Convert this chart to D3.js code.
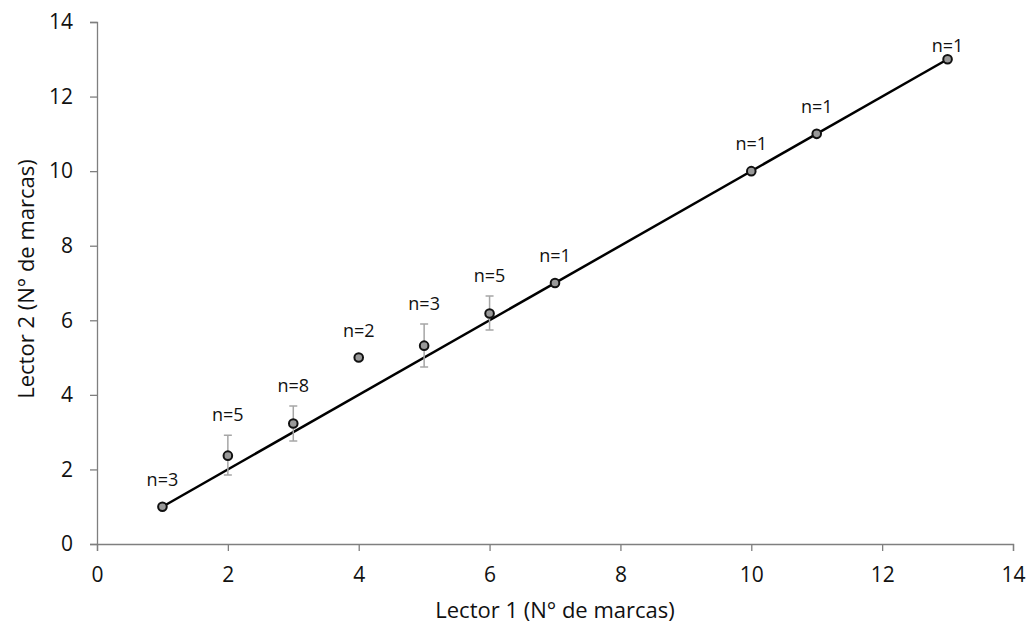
<!DOCTYPE html>
<html>
<head>
<meta charset="utf-8">
<script src="https://cdn.jsdelivr.net/npm/d3@7"></script>
<style>
  body { margin: 0; background: #fff; }
  text { font-family: "Open Sans", sans-serif; fill: #111; }
</style>
</head>
<body>
<div id="chart"></div>
<script>
const lector1 = [1, 2, 3, 4, 5, 6, 7, 10, 11, 13];
const lector2 = [1, 2.37, 3.23, 5, 5.32, 6.18, 7, 10, 11, 13];
const errLow  = [null, 1.85, 2.76, null, 4.75, 5.74, null, null, null, null];
const errHigh = [null, 2.92, 3.70, null, 5.90, 6.65, null, null, null, null];
const nLabels = ["n=3", "n=5", "n=8", "n=2", "n=3", "n=5", "n=1", "n=1", "n=1", "n=1"];
const fitLine = [[1, 1], [13, 13]];
const ticks = [0, 2, 4, 6, 8, 10, 12, 14];

const width = 1030, height = 623;
const margin = { top: 22, right: 17, bottom: 79, left: 97 };
const innerWidth = width - margin.left - margin.right;
const innerHeight = height - margin.top - margin.bottom;

const data = lector1.map((x, i) => ({
  x, y: lector2[i], lo: errLow[i], hi: errHigh[i], label: nLabels[i]
}));

const svg = d3.select("#chart").append("svg")
  .attr("width", width)
  .attr("height", height);

const inner = svg.append("g")
  .attr("transform", `translate(${margin.left},${margin.top})`);

const xScale = d3.scaleLinear().domain([0, 14]).range([0, innerWidth]);
const yScale = d3.scaleLinear().domain([0, 14]).range([innerHeight, 0]);

// Axes
const yAxis = inner.append("g")
  .call(d3.axisLeft(yScale).tickValues(ticks).tickSize(7).tickPadding(17).tickFormat(d3.format("d")));
const xAxis = inner.append("g")
  .attr("transform", `translate(0,${innerHeight})`)
  .call(d3.axisBottom(xScale).tickValues(ticks).tickSize(7).tickPadding(16).tickFormat(d3.format("d")));

[xAxis, yAxis].forEach(ax => {
  ax.select(".domain").attr("stroke", "#7f7f7f").attr("stroke-width", 1.3);
  ax.selectAll(".tick line").attr("stroke", "#7f7f7f").attr("stroke-width", 1.3);
  ax.selectAll(".tick text").attr("font-size", "21px").attr("fill", "#111")
    .style("font-family", "'Open Sans', sans-serif");
});

// Fit line
inner.append("path")
  .datum(fitLine)
  .attr("d", d3.line().x(d => xScale(d[0])).y(d => yScale(d[1])))
  .attr("fill", "none")
  .attr("stroke", "#000")
  .attr("stroke-width", 2.5);

// Error bars
const withErr = data.filter(d => d.lo !== null);
inner.selectAll(".err")
  .data(withErr)
  .enter()
  .append("path")
  .attr("class", "err")
  .attr("d", d => {
    const cx = xScale(d.x), t = yScale(d.hi), b = yScale(d.lo);
    return `M${cx - 4},${t}H${cx + 4}M${cx},${t}V${b}M${cx - 4},${b}H${cx + 4}`;
  })
  .attr("fill", "none")
  .attr("stroke", "#a6a6a6")
  .attr("stroke-width", 1.5);

// Points
inner.selectAll(".dot")
  .data(data)
  .enter()
  .append("circle")
  .attr("class", "dot")
  .attr("cx", d => xScale(d.x))
  .attr("cy", d => yScale(d.y))
  .attr("r", 4.3)
  .attr("fill", "#999")
  .attr("stroke", "#111")
  .attr("stroke-width", 2);

// n labels
inner.selectAll(".nlab")
  .data(data)
  .enter()
  .append("text")
  .attr("class", "nlab")
  .attr("x", d => xScale(d.x))
  .attr("y", d => {
    const yy = d.hi !== null ? yScale(d.hi) - 20 : yScale(d.y) - 27;
    return Math.max(yy, 24) + 6;
  })
  .attr("text-anchor", "middle")
  .attr("font-size", "18px")
  .text(d => d.label);

// Axis titles
inner.append("text")
  .attr("x", 555 - margin.left)
  .attr("y", innerHeight + 74)
  .attr("text-anchor", "middle")
  .attr("font-size", "22px")
  .text("Lector 1 (N° de marcas)");

inner.append("text")
  .attr("transform", "rotate(-90)")
  .attr("x", -(279 - margin.top))
  .attr("y", -63)
  .attr("text-anchor", "middle")
  .attr("font-size", "22px")
  .text("Lector 2 (N° de marcas)");
</script>
</body>
</html>
